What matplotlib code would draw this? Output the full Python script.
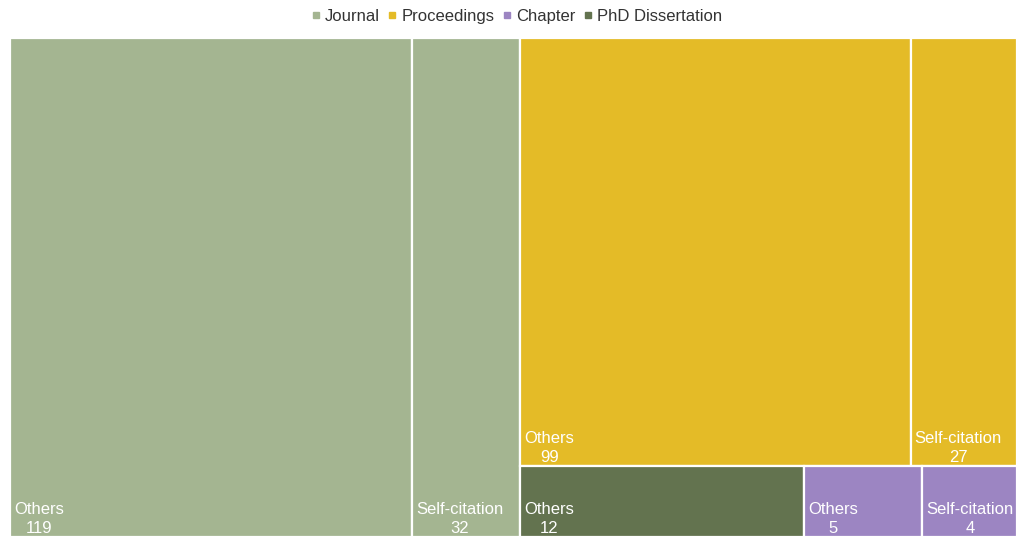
import matplotlib.pyplot as plt
from matplotlib.patches import Rectangle
from matplotlib.lines import Line2D

plt.rcParams['font.family'] = ['Liberation Sans', 'DejaVu Sans']

groups = ['Journal', 'Proceedings', 'Chapter', 'PhD Dissertation']
colors = {'Journal': '#a4b591', 'Proceedings': '#e4bb27',
          'Chapter': '#9c85c2', 'PhD Dissertation': '#63734f'}
leaves = {
    'Journal': [('Others', 119), ('Self-citation', 32)],
    'Proceedings': [('Others', 99), ('Self-citation', 27)],
    'Chapter': [('Others', 5), ('Self-citation', 4)],
    'PhD Dissertation': [('Others', 12)],
}


def total(g):
    return sum(v for _, v in leaves[g])


def split(x, y, w, h, weights, horizontal):
    # slice a rectangle into pieces proportional to weights
    s = sum(weights)
    out = []
    pos = 0
    for wt in weights:
        f = wt / s
        if horizontal:
            out.append((x + pos * w, y, w * f, h))
        else:
            out.append((x, y + pos * h, w, h * f))
        pos += f
    return out


W, H = 1007, 499
fig = plt.figure(figsize=(10.17, 5.37), dpi=100)
ax = fig.add_axes([10 / 1017, 0, W / 1017, H / 537])
ax.set_xlim(0, W)
ax.set_ylim(H, 0)
ax.axis('off')

# Journal on the left, the rest stacked on the right
left, right = split(0, 0, W, H, [total('Journal'), total('Proceedings') + total('Chapter') + total('PhD Dissertation')], True)
top, bottom = split(*right, [total('Proceedings'), total('Chapter') + total('PhD Dissertation')], False)
phd, chap = split(*bottom, [total('PhD Dissertation'), total('Chapter')], True)
boxes = {'Journal': left, 'Proceedings': top,
         'PhD Dissertation': phd, 'Chapter': chap}

for g, box in boxes.items():
    cells = split(*box, [v for _, v in leaves[g]], True)
    for (name, val), (x, y, w, h) in zip(leaves[g], cells):
        ax.add_patch(Rectangle((x, y), w, h, facecolor=colors[g],
                               edgecolor='white', linewidth=1.6))
        ax.text(x + 4, y + h - 1, f'{name}\n{val}', color='white',
                fontsize=12, ha='left', va='bottom', multialignment='center',
                linespacing=1.3)

handles = [Line2D([], [], marker='s', linestyle='', markersize=5,
                  markerfacecolor=colors[g], markeredgecolor=colors[g]) for g in groups]
fig.legend(handles, groups, loc='upper center', bbox_to_anchor=(0.507, 1.012),
           ncol=4, frameon=False, fontsize=12, handletextpad=0.15,
           columnspacing=0.35, handlelength=0.8, labelcolor='#333333')

fig.savefig('out.png', dpi=100)
